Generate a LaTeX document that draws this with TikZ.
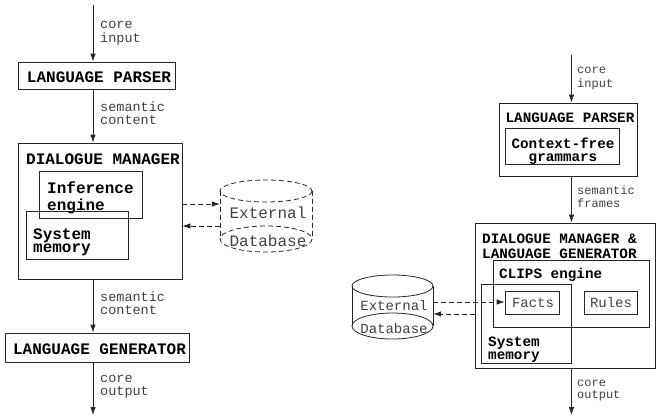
\documentclass[tikz,border=0pt]{standalone}
\usepackage{fontspec}
\newfontfamily\cour{Liberation Mono}
\usetikzlibrary{arrows.meta}
\tikzset{
  boxln/.style={draw=black!85, line width=0.8pt},
  blk/.style={boxln, rectangle, inner sep=0pt},
  ttlL/.style={inner sep=0pt, font=\cour\bfseries\fontsize{16}{13.5}\selectfont, text=black},
  ttlR/.style={inner sep=0pt, font=\cour\bfseries\fontsize{14.3}{12.5}\selectfont, text=black},
  lblL/.style={inner sep=0pt, anchor=north west, align=left, font=\cour\fontsize{13.5}{12.5}\selectfont, text=black!75},
  lblR/.style={inner sep=0pt, anchor=north west, align=left, font=\cour\fontsize{12}{12}\selectfont, text=black!75},
  flow/.style={draw=black!85, line width=0.8pt, -{Latex[length=8pt,width=5.5pt]}},
  dflow/.style={flow, dash pattern=on 5pt off 3pt},
  dbL/.style={inner sep=0pt, font=\cour\fontsize{16}{16}\selectfont, text=black!75},
  dbR/.style={inner sep=0pt, font=\cour\fontsize{14}{14}\selectfont, text=black!75},
}
\begin{document}
\begin{tikzpicture}[x=1pt,y=-1pt]
\useasboundingbox (0,0) rectangle (656,416);

% ---------------- left diagram ----------------
\coordinate (in1) at (93,5);
\coordinate (out1) at (93,415);
\node[blk, minimum width=157pt, minimum height=27pt] (lp1) at (96.5,75.5) {};
\node[ttlL, anchor=base] (lp1t) at (99,82.5) {LANGUAGE PARSER};
\node[blk, minimum width=164pt, minimum height=136pt] (dm1) at (100,211) {};
\node[ttlL, anchor=base west] (dm1t) at (26,164.5) {DIALOGUE MANAGER};
\node[blk, minimum width=103pt, minimum height=47pt] (ie1) at (90.5,194.5) {};
\node[ttlL, anchor=north west, align=left] (ie1t) at (47,181.5) {\strut Inference\\engine};
\node[blk, minimum width=102pt, minimum height=48pt] (sm1) at (77,235) {};
\node[ttlL, anchor=north west, align=left] (sm1t) at (33,228.5) {\strut System\\memory};
\node[blk, minimum width=184pt, minimum height=29pt] (lg1) at (97,347.5) {};
\node[ttlL, anchor=base] (lg1t) at (99.5,354.5) {LANGUAGE GENERATOR};

\draw[flow] (in1) -- (in1 |- lp1.north);
\draw[flow] (in1 |- lp1.south) -- (in1 |- dm1.north);
\draw[flow] (in1 |- dm1.south) -- (in1 |- lg1.north);
\draw[flow] (in1 |- lg1.south) -- (out1);

\node[lblL] (l1a) at (100,19.2) {\strut core\\input};
\node[lblL] (l1b) at (100,101.2) {\strut semantic\\content};
\node[lblL] (l1c) at (100,291.2) {\strut semantic\\content};
\node[lblL] (l1d) at (100,373.2) {\strut core\\output};

% dashed database
\node[inner sep=0pt, minimum width=92pt, minimum height=73pt] (db1) at (266,216.5) {};
\begin{scope}[draw=black!85, line width=0.8pt, dash pattern=on 5pt off 3pt]
  \draw (266,191) ellipse [x radius=46, y radius=11];
  \draw (266,239) ellipse [x radius=46, y radius=13];
  \draw (220,191) -- (220,239);
  \draw (312,191) -- (312,239);
\end{scope}
\node[dbL] (db1a) at (268,213) {External};
\node[dbL] (db1b) at (268,241) {Database};
\draw[dflow] (dm1.east |- 0,204) -- (db1.west |- 0,204);
\draw[dflow] (db1.west |- 0,226) -- (dm1.east |- 0,226);

% ---------------- right diagram ----------------
\coordinate (in2) at (571.5,55);
\coordinate (out2) at (571.5,415);
\node[blk, minimum width=138pt, minimum height=73pt] (lp2) at (568,139.5) {};
\node[ttlR, anchor=base] (lp2t) at (570,122.7) {LANGUAGE PARSER};
\node[blk, minimum width=114pt, minimum height=36pt] (cf2) at (562,146) {};
\node[ttlR, anchor=north, align=center] (cf2t) at (563,138) {\strut Context-free\\grammars};
\node[blk, minimum width=180pt, minimum height=145pt] (dm2) at (565,295.5) {};
\node[ttlR, anchor=north west, align=left] (dm2t) at (482,234) {\strut DIALOGUE MANAGER \&\\LANGUAGE GENERATOR};
\node[blk, minimum width=156pt, minimum height=67pt] (ce2) at (571,293.5) {};
\node[ttlR, anchor=base west] (ce2t) at (499,278.7) {CLIPS engine};
\node[blk, minimum width=90pt, minimum height=79pt] (sm2) at (526,323.5) {};
\node[ttlR, anchor=north west, align=left] (sm2t) at (488,337) {\strut System\\memory};
\node[blk, minimum width=54pt, minimum height=23pt] (facts) at (532,302.5) {};
\node[dbR] (factst) at (533,302.5) {Facts};
\node[blk, minimum width=53pt, minimum height=23pt] (rules) at (610.5,302.5) {};
\node[dbR] (rulest) at (611,302.5) {Rules};

\draw[flow] (in2) -- (in2 |- lp2.north);
\draw[flow] (in2 |- lp2.south) -- (in2 |- dm2.north);
\draw[flow] (in2 |- dm2.south) -- (out2);

\node[lblR] (l2a) at (577,65.2) {\strut core\\input};
\node[lblR] (l2b) at (577,185.2) {\strut semantic\\frames};
\node[lblR] (l2c) at (577,378.2) {\strut core\\output};

% solid database
\node[inner sep=0pt, minimum width=81pt, minimum height=64pt] (db2) at (392.5,307) {};
\begin{scope}[draw=black!85, line width=0.8pt]
  \draw (392.5,286) ellipse [x radius=40.5, y radius=11];
  \draw (392.5,326) ellipse [x radius=40.5, y radius=13];
  \draw (352,286) -- (352,326);
  \draw (433,286) -- (433,326);
\end{scope}
\node[dbR] (db2a) at (394,305) {External};
\node[dbR] (db2b) at (394,328) {Database};
\draw[dflow] (db2.east |- 0,302) -- (facts.west |- 0,302);
\draw[dflow] (dm2.west |- 0,314) -- (db2.east |- 0,314);
\end{tikzpicture}
\end{document}
